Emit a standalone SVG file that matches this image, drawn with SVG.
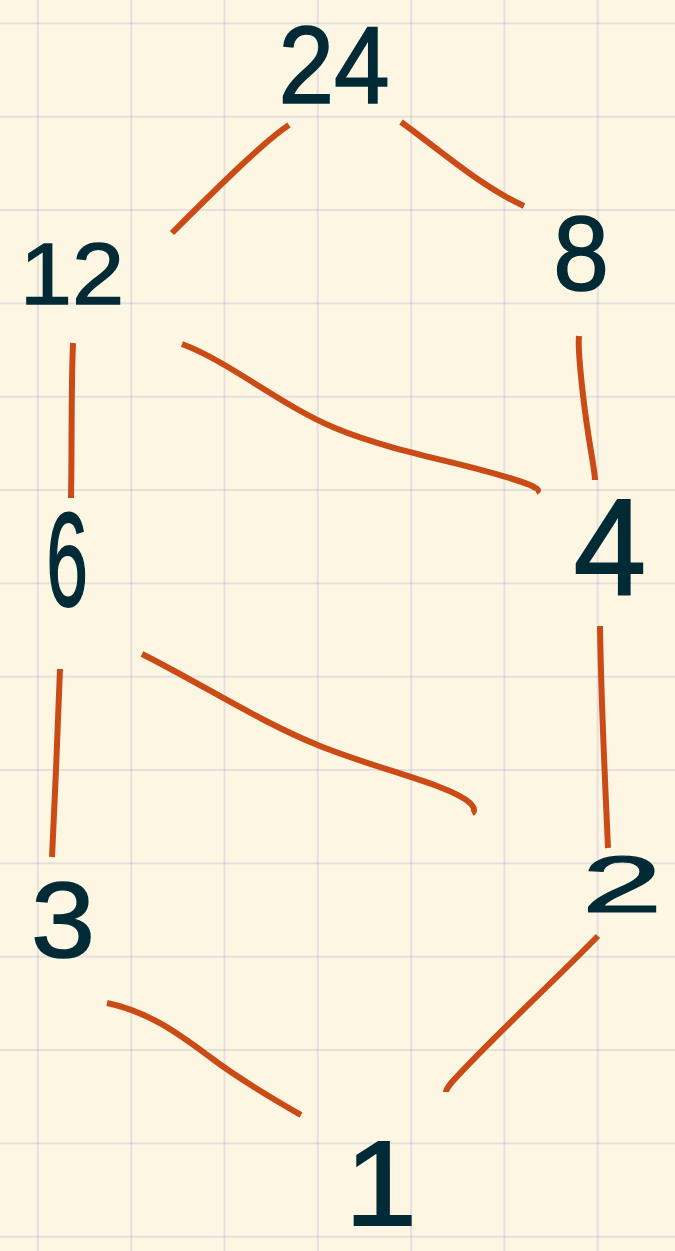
<svg xmlns="http://www.w3.org/2000/svg" width="675" height="1251" viewBox="0 0 675 1251">
<style>
.grid line{stroke:#6c71c4;stroke-opacity:0.16;stroke-width:2}
.edge{fill:none;stroke:#cb4b16;stroke-width:6;stroke-linecap:butt;stroke-linejoin:round}
.lbl{font-family:"Liberation Sans",Arial,sans-serif;font-size:100px;fill:#002b36;stroke:#002b36;stroke-width:1.5;text-anchor:middle}
</style>
<rect x="0" y="0" width="675" height="1251" fill="#fdf6e3"/>
<g class="grid">
<line x1="37.9" y1="0" x2="37.9" y2="1251"/>
<line x1="131.2" y1="0" x2="131.2" y2="1251"/>
<line x1="224.5" y1="0" x2="224.5" y2="1251"/>
<line x1="317.8" y1="0" x2="317.8" y2="1251"/>
<line x1="411.1" y1="0" x2="411.1" y2="1251"/>
<line x1="504.4" y1="0" x2="504.4" y2="1251"/>
<line x1="597.7" y1="0" x2="597.7" y2="1251"/>
<line x1="0" y1="23.3" x2="675" y2="23.3"/>
<line x1="0" y1="116.7" x2="675" y2="116.7"/>
<line x1="0" y1="210" x2="675" y2="210"/>
<line x1="0" y1="303.3" x2="675" y2="303.3"/>
<line x1="0" y1="396.7" x2="675" y2="396.7"/>
<line x1="0" y1="490" x2="675" y2="490"/>
<line x1="0" y1="583.3" x2="675" y2="583.3"/>
<line x1="0" y1="676.7" x2="675" y2="676.7"/>
<line x1="0" y1="770" x2="675" y2="770"/>
<line x1="0" y1="863.3" x2="675" y2="863.3"/>
<line x1="0" y1="956.7" x2="675" y2="956.7"/>
<line x1="0" y1="1050" x2="675" y2="1050"/>
<line x1="0" y1="1143.3" x2="675" y2="1143.3"/>
<line x1="0" y1="1236.7" x2="675" y2="1236.7"/>
</g>
<g id="connectors">
<path class="edge" d="M289,125 C266,140 225,180 172,233"/>
<path class="edge" d="M401,122 C440,150 480,186 524,206"/>
<path class="edge" d="M73,343 C71,390 72,450 71,498"/>
<path class="edge" d="M182,344 C230,362 280,405 335,428 C400,455 480,465 530,485 C538,489 540,490 536,492"/>
<path class="edge" d="M579,336 C578,345 579,360 583,395 C588,440 595,470 595,480"/>
<path class="edge" d="M600,626 C601,700 605,780 608,848"/>
<path class="edge" d="M60,669 C58,720 55,800 52,857"/>
<path class="edge" d="M142,654 C200,683 260,722 320,746 C380,770 450,785 470,803 C476,809 474,812 472,813"/>
<path class="edge" d="M107,1003 C150,1012 180,1035 210,1057 C240,1080 275,1100 301,1115"/>
<path class="edge" d="M598,936 C545,990 490,1040 452,1082 C447,1088 446,1090 446,1092"/>
</g>
<g id="n24"><text class="lbl" transform="translate(334,103) scale(1.0,1.1)">24</text></g>
<g id="n12"><text class="lbl" transform="translate(72,304) scale(0.94,0.88)">12</text></g>
<g id="n8"><text class="lbl" transform="translate(581,290) scale(1.0,1.05)">8</text></g>
<g id="n6"><text class="lbl" transform="translate(67,606) scale(0.75,1.33)">6</text></g>
<g id="n4"><text class="lbl" transform="translate(610,594) scale(1.3,1.38)">4</text></g>
<g id="n3"><text class="lbl" transform="translate(63,957) scale(1.15,1.08)">3</text></g>
<g id="n2"><text class="lbl" transform="translate(622,912) scale(1.45,0.8)">2</text></g>
<g id="n1"><text class="lbl" transform="translate(381,1225) scale(1.3,1.2)">1</text></g>
</svg>
